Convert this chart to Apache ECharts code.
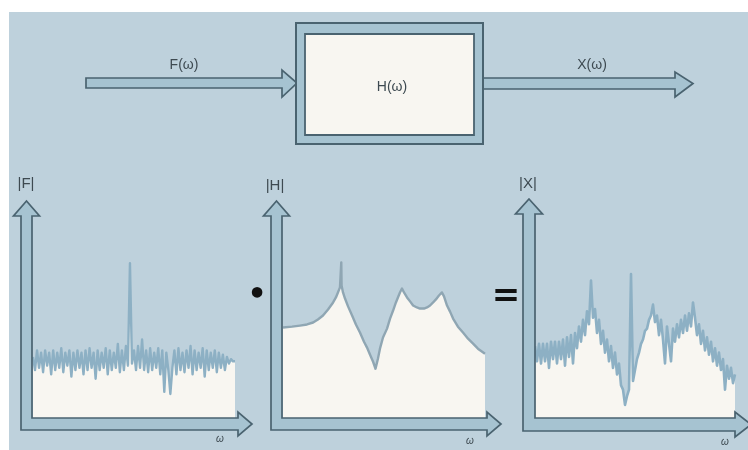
<!DOCTYPE html>
<html>
<head>
<meta charset="utf-8">
<script src="https://cdn.jsdelivr.net/npm/echarts@6/dist/echarts.min.js"></script>
<style>
  html, body { margin: 0; padding: 0; background: #ffffff; }
  #chart { width: 748px; height: 450px; }
</style>
</head>
<body>
<div id="chart"></div>
<script>
// Excitation spectrum |F(ω)|: broadband noise with one sharp line
const fMag = [
  28, 22, 31, 23, 30, 21, 31, 24, 30, 20,
  31, 22, 30, 23, 32, 21, 30, 24, 31, 19,
  30, 22, 31, 23, 30, 20, 31, 22, 32, 23,
  30, 18, 31, 22, 30, 23, 32, 20, 31, 22,
  30, 23, 34, 21, 31, 22, 33, 24, 71, 25,
  31, 22, 33, 23, 36, 22, 31, 21, 32, 22,
  30, 23, 32, 20, 31, 12, 30, 22, 11, 23,
  31, 20, 32, 22, 30, 21, 31, 23, 33, 20,
  31, 22, 30, 23, 32, 19, 31, 22, 30, 23,
  31, 21, 30, 23, 29, 22, 28, 25, 27, 26, 26
];

// Frequency response |H(ω)|: three resonances and one anti-resonance
const hOmega = [
  0, 4.5, 8.4, 11.9, 14.9, 17.3, 19.8, 22.3, 24.8, 26.2, 27.2, 28.2, 28.7, 28.85, 29.0,
  29.7, 30.7, 32.2, 34.2, 36.1, 38.1, 40.1, 41.6, 43.1, 44.6, 45.8,
  47.0, 48.0, 49.5, 51.5, 53.0, 54.5, 55.9, 56.9, 57.9, 58.9,
  59.9, 61.4, 62.9, 64.4, 66.3, 67.8, 69.8, 71.3, 72.8, 74.3, 75.7, 77.2, 78.7,
  79.7, 81.2, 82.7, 84.2, 86.6, 89.1, 91.6, 94.1, 96.5, 100
];
const hMag = [
  41.5, 41.9, 42.4, 42.9, 43.8, 45.2, 47.0, 49.8, 53.0, 55.3, 57.6, 59.9, 60.8, 71.4, 60.8,
  57.6, 54.8, 51.2, 47.0, 42.9, 39.2, 35.0, 32.3, 29.0, 25.8, 22.6,
  27.2, 31.8, 36.9, 41.0, 45.6, 49.3, 53.0, 55.3, 57.6, 59.4,
  57.6, 55.3, 53.5, 51.6, 50.7, 50.2, 50.2, 50.7, 51.6, 53.0, 54.4, 56.2, 57.6,
  55.8, 51.6, 48.8, 45.6, 41.9, 39.2, 36.4, 34.1, 31.8, 29.5
];

// Response spectrum |X(ω)|
const xMag = [
  33, 26, 34, 25, 34, 26, 34, 23, 35, 27,
  35, 25, 35, 27, 36, 24, 37, 28, 38, 25,
  39, 32, 42, 35, 45, 38, 49, 43, 63, 46,
  50, 39, 45, 34, 40, 30, 36, 26, 33, 23,
  30, 20, 25, 15, 13, 6, 10, 13, 66, 17,
  22, 27, 30, 34, 36, 40, 41, 45, 47, 52,
  44, 47, 38, 45, 36, 25, 42, 34, 26, 41,
  35, 43, 37, 45, 39, 47, 40, 48, 42, 53,
  46, 38, 43, 34, 40, 31, 37, 29, 35, 26,
  32, 24, 30, 22, 27, 13, 24, 18, 23, 16, 20
];

const topLabels = ['F(ω)', 'H(ω)', 'X(ω)'];
const axisLabels = ['|F|', '|H|', '|X|'];
const omegaLabel = 'ω';

const BG = '#bed1dc';
const PAPER = '#f8f6f1';
const EDGE = '#4a6370';
const SHAFT = '#a6c3d1';
const TRACE = '#8db0c4';
const INK = '#3e4a51';
const FONT = '"Liberation Sans", Arial, sans-serif';

const chart = echarts.init(document.getElementById('chart'), null, { renderer: 'canvas' });

// Hollow L-shaped axis arrow: vertical shaft [l, r] with tip at tipY,
// horizontal shaft [t, b] ending in a head at tipX.
function axisArrow(l, r, tipY, t, b, headBackX, tipX) {
  const cx = (l + r) / 2, cy = (t + b) / 2, hw = 7.5, hl = 15;
  return {
    type: 'polygon', z: 20,
    shape: { points: [
      [cx, tipY], [r + hw, tipY + hl], [r, tipY + hl], [r, t],
      [headBackX, t], [headBackX, t - 6], [tipX, cy], [headBackX, b + 6],
      [headBackX, b], [l, b], [l, tipY + hl], [l - hw, tipY + hl]
    ] },
    style: { fill: SHAFT, stroke: EDGE, lineWidth: 1.7, lineJoin: 'miter' }
  };
}

// Horizontal block-diagram arrow
function flowArrow(x0, headBackX, tipX, y0, y1, hy0, hy1) {
  const cy = (y0 + y1) / 2;
  return {
    type: 'polygon', z: 20,
    shape: { points: [
      [x0, y0], [headBackX, y0], [headBackX, hy0], [tipX, cy],
      [headBackX, hy1], [headBackX, y1], [x0, y1]
    ] },
    style: { fill: SHAFT, stroke: EDGE, lineWidth: 1.7 }
  };
}

function label(text, x, y, font, color) {
  return {
    type: 'text', z: 30, x: x, y: y,
    style: { text: text, fill: color || INK, font: font, align: 'center', verticalAlign: 'middle' }
  };
}

const grids = [
  { left: 33, top: 200, width: 202, height: 218 },
  { left: 283, top: 200, width: 202, height: 218 },
  { left: 535, top: 200, width: 200, height: 218 }
];

const xAxes = grids.map((g, i) => ({ type: 'value', gridIndex: i, min: 0, max: 100, show: false }));
const yAxes = grids.map((g, i) => ({ type: 'value', gridIndex: i, min: 0, max: 100, show: false }));

function trace(i, data, color, width) {
  return {
    type: 'line', xAxisIndex: i, yAxisIndex: i, data: data,
    symbol: 'none', silent: true, animation: false,
    lineStyle: { color: color, width: width, join: 'round' },
    areaStyle: { color: PAPER, opacity: 1 }
  };
}

const option = {
  animation: false,
  grid: grids,
  xAxis: xAxes,
  yAxis: yAxes,
  series: [
    trace(0, fMag.map((v, i) => [i, v]), TRACE, 2.4),
    trace(1, hOmega.map((w, i) => [w, hMag[i]]), '#8fa6b3', 2.4),
    trace(2, xMag.map((v, i) => [i, v]), TRACE, 2.6)
  ],
  graphic: { elements: [
    // background panel
    { type: 'rect', z: -10, shape: { x: 9, y: 12, width: 739, height: 438 }, style: { fill: BG } },

    // block diagram
    flowArrow(86, 282, 297, 78, 88, 70, 97),
    flowArrow(483, 675, 693, 78, 89, 72, 97),
    { type: 'rect', z: 21, shape: { x: 296, y: 23, width: 187, height: 121 }, style: { fill: SHAFT, stroke: EDGE, lineWidth: 2 } },
    { type: 'rect', z: 22, shape: { x: 305, y: 34, width: 169, height: 101 }, style: { fill: PAPER, stroke: EDGE, lineWidth: 1.8 } },
    label(topLabels[0], 184, 65, '14px ' + FONT),
    label(topLabels[1], 392, 87, '14px ' + FONT),
    label(topLabels[2], 592, 65, '14px ' + FONT),

    // spectrum axes
    axisArrow(21, 32, 201, 418, 430, 238, 252),
    axisArrow(271, 282, 201, 418, 430, 487, 501),
    axisArrow(523, 535, 199, 418, 431, 735, 751),
    label(axisLabels[0], 26, 184, '15px ' + FONT),
    label(axisLabels[1], 275, 186, '15px ' + FONT),
    label(axisLabels[2], 528, 184, '15px ' + FONT),
    label(omegaLabel, 220, 439, 'italic 10px ' + FONT),
    label(omegaLabel, 470, 441, 'italic 10px ' + FONT),
    label(omegaLabel, 725, 442, 'italic 10px ' + FONT),

    // operators between the spectra
    label('•', 257, 296, 'bold 30px "DejaVu Sans", sans-serif', '#111111'),
    label('=', 506, 297, 'bold 34px "DejaVu Sans", sans-serif', '#111111')
  ] }
};

chart.setOption(option);
</script>
</body>
</html>
